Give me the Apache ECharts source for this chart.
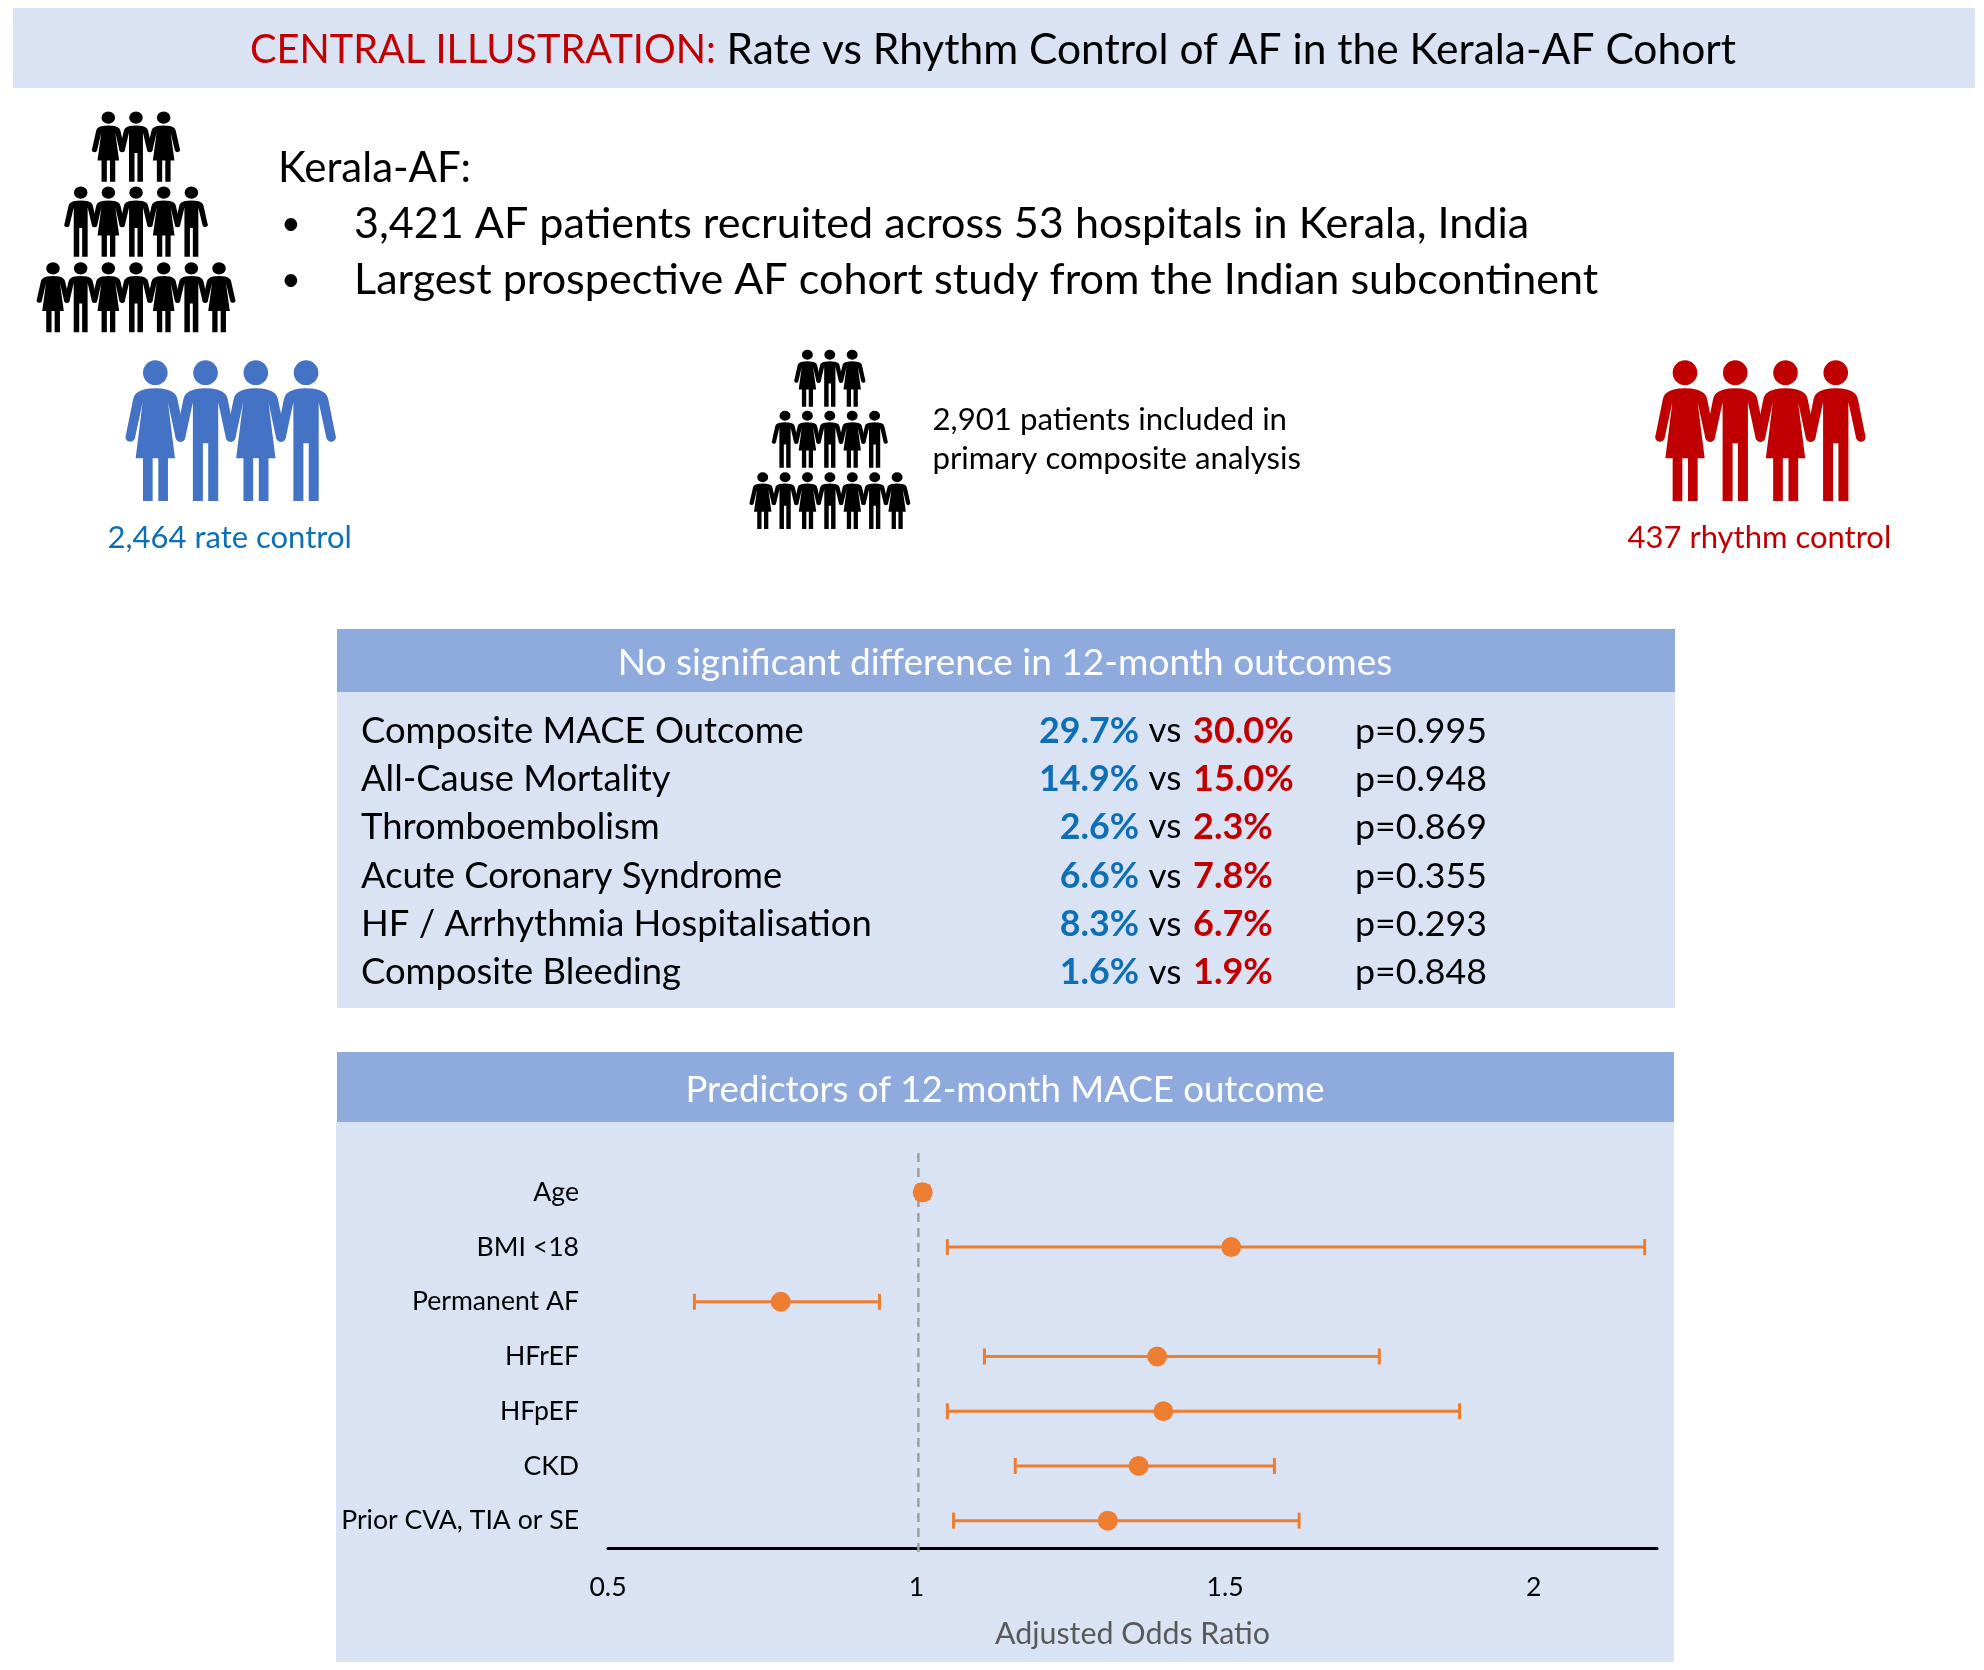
<!DOCTYPE html>
<html><head><meta charset="utf-8">
<style>html,body{margin:0;padding:0;background:#fff}#c{width:1984px;height:1670px}</style>
<script src="https://cdn.jsdelivr.net/npm/echarts@6/dist/echarts.min.js"></script>
</head><body><div id="c"></div>
<script>
// Forest plot data
const predictors = ['Age','BMI <18','Permanent AF','HFrEF','HFpEF','CKD','Prior CVA, TIA or SE'];
const oddsRatio  = [1.01,1.51,0.78,1.39,1.40,1.36,1.31];
const ciLow      = [1.00,1.05,0.64,1.11,1.05,1.16,1.06];
const ciHigh     = [1.02,2.18,0.94,1.75,1.88,1.58,1.62];
const xTicks     = [0.5,1,1.5,2];
const refLine    = 1.003;
// Outcome table
const outcomes = ['Composite MACE Outcome','All-Cause Mortality','Thromboembolism','Acute Coronary Syndrome','HF / Arrhythmia Hospitalisation','Composite Bleeding'];
const rateVals   = ['29.7%','14.9%','2.6%','6.6%','8.3%','1.6%'];
const rhythmVals = ['30.0%','15.0%','2.3%','7.8%','6.7%','1.9%'];
const pVals      = ['p=0.995','p=0.948','p=0.869','p=0.355','p=0.293','p=0.848'];

const FONT='Lato', ORANGE='#ED7D31', BLUE='#0F6FB5', RED='#C00000', PALE='#DAE3F3', HEAD='#8FAADC';
const ICON_BLUE='#4472C4';

const head='M-37,36A37,37 0 1 1 37,36A37,37 0 1 1 -37,36Z';
const armsR='Q40,83 56,97Q64,103 67,118L88,222A14.5,14.5 0 1 1 61,232L38,125';
const armsL='L-38,125L-61,232A14.5,14.5 0 1 1 -88,222L-67,118Q-64,103 -56,97Q-40,83 0,83Z';
const WOMAN=head+'M0,83'+armsR+'L59,293L38,293L38,421L9,421L9,293L-8,293L-8,421L-37,421L-37,293L-59,293'+armsL;
const MAN=head+'M0,83'+armsR+'L38,421L8,421L8,248L-8,248L-8,421L-38,421'+armsL;
echarts.graphic.registerShape('woman',echarts.graphic.extendPath(WOMAN));
echarts.graphic.registerShape('man',echarts.graphic.extendPath(MAN));

const g=[];
function rect(x,y,w,h,fill){g.push({type:'rect',z:0,shape:{x,y,width:w,height:h},style:{fill}});}
function txt(text,x,y,size,fill,align,weight){
  g.push({type:'text',z:5,x,y,style:{text,fontFamily:FONT,fontSize:size,fill,align:align||'left',verticalAlign:'middle',fontWeight:weight||'normal'}});
}
function person(woman,cx,top,sx,sy,fill){
  g.push({type:woman?'woman':'man',z:3,x:cx,y:top,scaleX:sx,scaleY:sy,style:{fill}});
}
function row(cx0,step,n,firstWoman,top,sx,sy,fill){
  for(let i=0;i<n;i++) person(firstWoman?(i%2===0):(i%2===1),cx0+i*step,top,sx,sy,fill);
}

// Panels
rect(13,8,1962,80,PALE);
rect(337,629,1338,63,HEAD); rect(337,692,1338,316,PALE);
rect(337,1052,1337,70,HEAD); rect(336,1122,1338,540,PALE);

// Title
g.push({type:'text',z:5,x:993,y:50.5,style:{
  text:'{r|CENTRAL ILLUSTRATION:} {k|Rate vs Rhythm Control of AF in the Kerala-AF Cohort}',
  align:'center',verticalAlign:'middle',fontFamily:FONT,fontSize:41,
  rich:{r:{fill:RED,fontFamily:FONT,fontSize:39.7},k:{fill:'#000',fontFamily:FONT,fontSize:42.5}}}});

// Intro
txt('Kerala-AF:',278,168,42,'#000');
txt('•',281,224,34,'#000'); txt('3,421 AF patients recruited across 53 hospitals in Kerala, India',354,224,43.1,'#000');
txt('•',281,280,34,'#000'); txt('Largest prospective AF cohort study from the Indian subcontinent',354,280,43.1,'#000');

// Icons
row(108.3,27.67,3,true,111.7,0.183,0.1663,'#000');
row(80.7,27.67,5,false,186.7,0.183,0.1663,'#000');
row(53,27.67,7,true,262.3,0.183,0.1663,'#000');
row(807.4,22.4,3,true,350,0.148,0.1347,'#000');
row(785,22.4,5,false,411,0.148,0.1347,'#000');
row(762.7,22.4,7,true,472.3,0.148,0.1347,'#000');
row(155.3,50.25,4,true,360.7,1/3,1/3,ICON_BLUE);
row(1685,50.25,4,true,360.7,1/3,1/3,RED);

txt('2,464 rate control',229.7,538,31,BLUE,'center');
txt('437 rhythm control',1759.4,538,31,RED,'center');
txt('2,901 patients included in',932.5,420,31.2,'#000');
txt('primary composite analysis',932.5,459,31.2,'#000');

// Table
txt('No significant difference in 12-month outcomes',1005,663,37,'#fff','center');
txt('Predictors of 12-month MACE outcome',1005,1090,36.6,'#fff','center');
const rowY=[731,779,827,876.5,924.5,972.5];
outcomes.forEach((o,i)=>{
  const y=rowY[i];
  txt(o,361,y,36.4,'#000');
  txt(rateVals[i],1139,y,35.8,BLUE,'right','bold');
  txt('vs',1165,y,35,'#000','center');
  txt(rhythmVals[i],1193,y,36,RED,'left','bold');
  txt(pVals[i],1355,y,35.7,'#000');
});

const chart=echarts.init(document.getElementById('c'),null,{renderer:'canvas'});
chart.setOption({
  animation:false,
  backgroundColor:'#fff',
  graphic:{elements:g},
  textStyle:{fontFamily:FONT},
  grid:[
    {left:608,top:1165,width:1049,height:383,containLabel:false},
    {left:608,top:1148,width:1049,height:404,containLabel:false}
  ],
  xAxis:[
    {type:'value',gridIndex:0,min:0.5,max:2.2,interval:0.5,
     axisLine:{show:true,onZero:false,lineStyle:{color:'#000',width:3}},
     axisTick:{show:false},splitLine:{show:false},
     axisLabel:{customValues:xTicks,margin:26,fontSize:26.6,color:'#000',fontFamily:FONT},
     name:'Adjusted Odds Ratio',nameLocation:'middle',nameGap:71.5,
     nameTextStyle:{fontSize:30.4,color:'#595959',fontFamily:FONT}},
    {type:'value',gridIndex:1,min:0.5,max:2.2,show:false}
  ],
  yAxis:[
    {type:'category',gridIndex:0,data:predictors,inverse:true,
     axisLine:{show:false},axisTick:{show:false},splitLine:{show:false},
     axisLabel:{margin:29,fontSize:26.6,color:'#000',fontFamily:FONT}},
    {type:'value',gridIndex:1,min:0,max:1,show:false}
  ],
  series:[
    {type:'line',name:'Reference',xAxisIndex:1,yAxisIndex:1,z:2,symbol:'none',silent:true,
     data:[[refLine,0],[refLine,1]],
     lineStyle:{color:'#A0A0A0',width:2.5,type:[9,6]}},
    {type:'custom',name:'95% CI',xAxisIndex:0,yAxisIndex:0,z:3,clip:false,
     data:predictors.map((p,i)=>[ciLow[i],ciHigh[i],i]),
     encode:{x:[0,1],y:2},
     renderItem(params,api){
       const a=api.coord([api.value(0),api.value(2)]), b=api.coord([api.value(1),api.value(2)]);
       const st={stroke:ORANGE,lineWidth:3,fill:'none'};
       const seg=(x1,y1,x2,y2)=>({type:'line',shape:{x1,y1,x2,y2},style:st});
       return {type:'group',children:[
         seg(a[0],a[1],b[0],b[1]),
         seg(a[0],a[1]-8,a[0],a[1]+8),
         seg(b[0],b[1]-8,b[0],b[1]+8)
       ]};
     }},
    {type:'scatter',name:'Adjusted OR',xAxisIndex:0,yAxisIndex:0,z:4,
     data:predictors.map((p,i)=>[oddsRatio[i],i]),
     symbol:'circle',symbolSize:20,itemStyle:{color:ORANGE,opacity:1}}
  ]
});
</script></body></html>
